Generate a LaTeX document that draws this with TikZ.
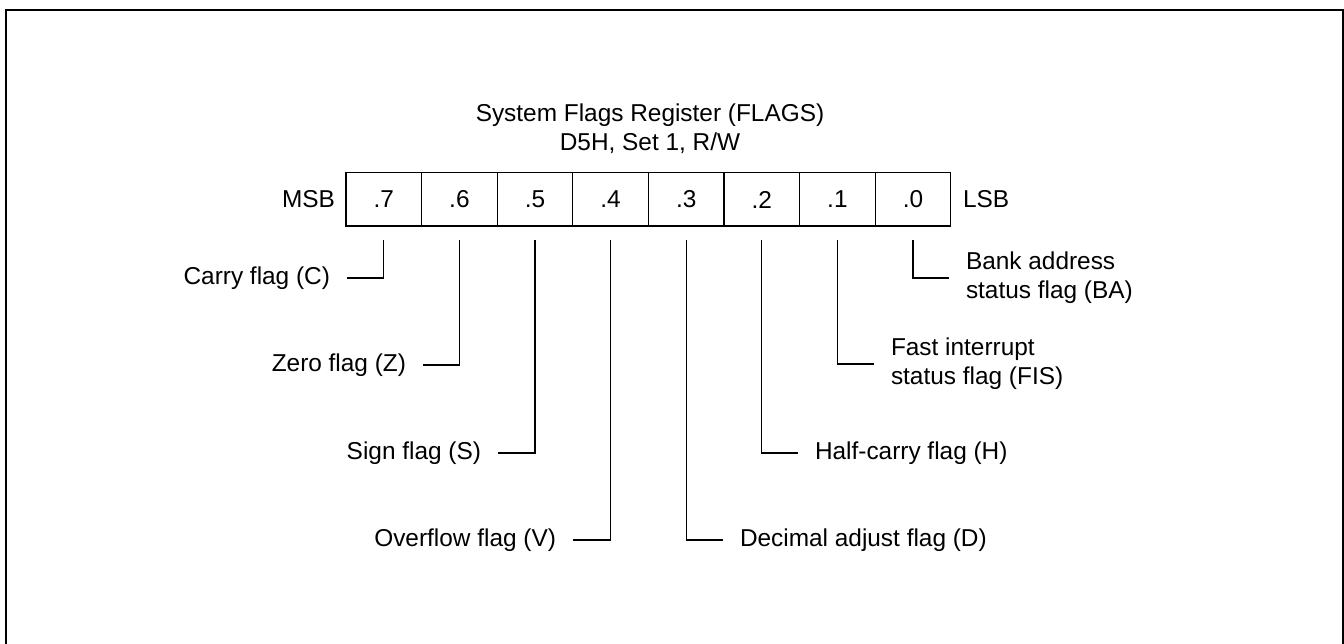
\documentclass[tikz,border=0pt]{standalone}
\usepackage{fontspec}
\setmainfont{Liberation Sans}
\begin{document}
\begin{tikzpicture}[x=1pt,y=-1pt,
  every node/.style={font=\fontsize{24.4}{29}\selectfont, inner sep=0pt, outer sep=0pt},
  cell/.style={draw, line width=1.3pt, minimum width=75.6pt, minimum height=53.3pt},
  conn/.style={line width=1.3pt, shorten <=13.5pt, shorten >=17pt},
  frame/.style={line width=2pt}]
\useasboundingbox (0,0) rectangle (1344,644);
\draw[frame] (6,660) -- (6,10) -- (1343,10) -- (1343,660);
\node[align=center] (title) at (650,129) {System Flags Register (FLAGS)\\D5H, Set 1, R/W};
\foreach \i [count=\k from 0] in {7,6,5,4,3,2,1,0}
  \node[cell] (b\i) at ({346+75.6*(\k+0.5)},199.5) {.\i};
\node[anchor=east] (msb) at (335,199.5) {MSB};
\node[anchor=west] (lsb) at (963,199.5) {LSB};
\node[anchor=east] (lc) at (330,278) {Carry flag (C)};
\node[anchor=east] (lz) at (406,365) {Zero flag (Z)};
\node[anchor=east] (ls) at (481,453) {Sign flag (S)};
\node[anchor=east] (lv) at (556,540) {Overflow flag (V)};
\node[anchor=west] (ld) at (740,540) {Decimal adjust flag (D)};
\node[anchor=west] (lh) at (815,453) {Half-carry flag (H)};
\node[anchor=west, align=left] (lf) at (891,364) {Fast interrupt\\status flag (FIS)};
\node[anchor=west, align=left] (lb) at (966,278) {Bank address\\status flag (BA)};
\draw[conn] (b7.south) |- (lc.east);
\draw[conn] (b6.south) |- (lz.east);
\draw[conn] (b5.south) |- (ls.east);
\draw[conn] (b4.south) |- (lv.east);
\draw[conn] (b3.south) |- (ld.west);
\draw[conn] (b2.south) |- (lh.west);
\draw[conn] (b1.south) |- (lf.west);
\draw[conn] (b0.south) |- (lb.west);
\end{tikzpicture}
\end{document}
